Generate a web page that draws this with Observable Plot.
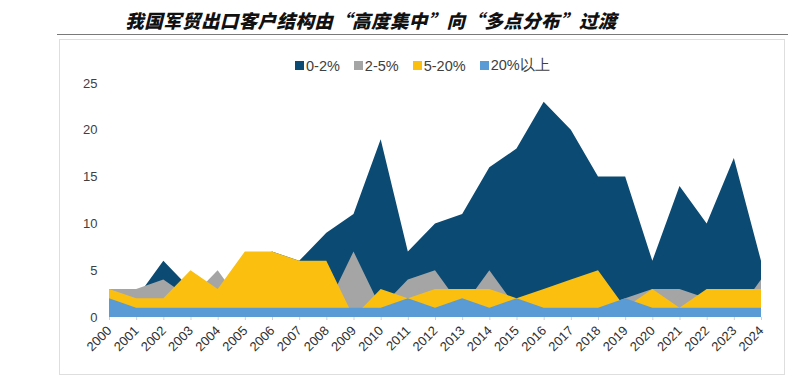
<!DOCTYPE html>
<html>
<head>
<meta charset="utf-8">
<script src="https://cdn.jsdelivr.net/npm/d3@7"></script>
<script src="https://cdn.jsdelivr.net/npm/@observablehq/plot@0.6"></script>
<style>
  html, body { margin: 0; padding: 0; background: #fff; }
  #wrap { position: relative; width: 800px; height: 382px; overflow: hidden; font-family: "Liberation Sans", Arial, sans-serif; }
  #title { position: absolute; left: 0; width: 742px; top: 9px; text-align: center; font-family: "Noto Sans CJK SC", sans-serif; font-size: 18.5px; font-weight: 900; font-style: italic; color: #111; letter-spacing: 0.4px; line-height: 22px; }
  #rule { position: absolute; left: 57px; top: 34px; width: 731px; height: 0; border-top: 1.5px solid #7a7a7a; }
  #box { position: absolute; left: 59px; top: 39px; width: 726px; height: 336px; border: 1px solid #dedede; box-sizing: border-box; }
  #legend { position: absolute; left: 295px; top: 56px; display: flex; align-items: center; font-size: 14.5px; color: #404040; }
  #legend .item { display: flex; align-items: center; margin-right: 14px; }
  #legend .sw { width: 9px; height: 9px; margin-right: 2px; }
  #chart { position: absolute; left: 0; top: 0; }
</style>
</head>
<body>
<div id="wrap">
  <div id="title"></div>
  <div id="rule"></div>
  <div id="box"></div>
  <div id="legend"></div>
  <div id="chart"></div>
</div>
<script>
const titleText = "我国军贸出口客户结构由“高度集中”向“多点分布”过渡";
const years = [2000,2001,2002,2003,2004,2005,2006,2007,2008,2009,2010,2011,2012,2013,2014,2015,2016,2017,2018,2019,2020,2021,2022,2023,2024];
const seriesNames = ["0-2%", "2-5%", "5-20%", "20%以上"];
const seriesColors = ["#0b4a72", "#a5a5a5", "#fbbf0f", "#5b9bd5"];
const s0_2 =   [1,2,6,3,3,5,7,6,9,11,19,7,10,11,16,18,23,20,15,15,6,14,10,17,6];
const s2_5 =   [3,3,4,2,5,1,1,1,1,7,1,4,5,1,5,1,1,1,1,2,3,3,2,0,4];
const s5_20 =  [3,2,2,5,3,7,7,6,6,0,3,2,3,3,3,2,3,4,5,1,3,1,3,3,3];
const s20up =  [2,1,1,1,1,1,1,1,1,1,1,2,1,2,1,2,1,1,1,2,1,1,1,1,1];
const yTicks = [0,5,10,15,20,25];

document.getElementById("title").textContent = titleText;

const allSeries = [s0_2, s2_5, s5_20, s20up];
const legend = document.getElementById("legend");
seriesNames.forEach((n, i) => {
  const it = document.createElement("div");
  it.className = "item";
  const sw = document.createElement("span");
  sw.className = "sw";
  sw.style.background = seriesColors[i];
  const tx = document.createElement("span");
  tx.textContent = n;
  it.appendChild(sw); it.appendChild(tx);
  legend.appendChild(it);
});

const areaMarks = allSeries.map((vals, i) => {
  const rows = years.map((yr, j) => ({year: yr, value: vals[j]}));
  return Plot.areaY(rows, {x: "year", y: "value", fill: seriesColors[i], curve: "linear"});
});

const chart = Plot.plot({
  width: 800,
  height: 382,
  marginLeft: 109,
  marginRight: 39,
  marginTop: 83,
  marginBottom: 65,
  style: {background: "transparent", fontFamily: "Liberation Sans, Arial, sans-serif", fontSize: "13px", color: "#404040"},
  x: {domain: [2000, 2024]},
  y: {domain: [0, 25]},
  marks: [
    ...areaMarks,
    Plot.axisY({ticks: yTicks, tickSize: 0, tickPadding: 12, label: null, fontSize: 13}),
    Plot.axisX({ticks: years, tickFormat: d => String(d), tickRotate: -45, tickSize: 3, tickPadding: 8, label: null, stroke: "#cfcfcf", fill: "#303030", fontSize: 13})
  ]
});
document.getElementById("chart").appendChild(chart);
</script>
</body>
</html>
